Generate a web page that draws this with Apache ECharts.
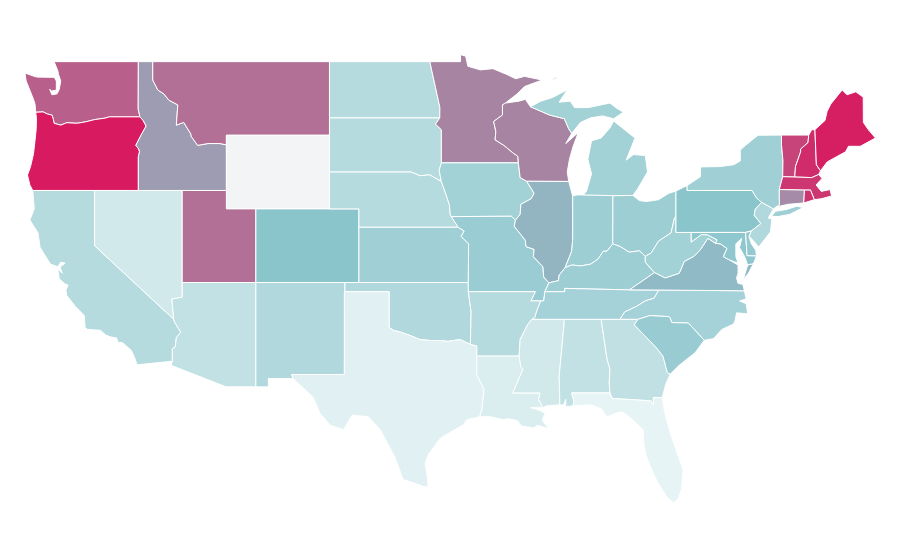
<!DOCTYPE html>
<html style="height: 100%">
<head>
<meta charset="utf-8">
<style>
    body { margin: 0; background: #fff; }
    #container { width: 900px; height: 560px; }
</style>
</head>
<body>
<div id="container"></div>
<script src="https://cdn.jsdelivr.net/npm/echarts@6/dist/echarts.min.js"></script>
<script>
// values, Wyoming has none
var stateNames = ['Washington','Oregon','California','Nevada','Idaho','Montana','Utah','Arizona','New Mexico','Colorado',
    'North Dakota','South Dakota','Nebraska','Kansas','Oklahoma','Texas','Minnesota','Iowa','Missouri','Arkansas',
    'Louisiana','Wisconsin','Illinois','Michigan','Indiana','Ohio','Kentucky','Tennessee','Mississippi','Alabama',
    'Georgia','Florida','South Carolina','North Carolina','Virginia','West Virginia','Pennsylvania','Maryland','Delaware','New Jersey',
    'New York','Connecticut','Rhode Island','Massachusetts','Vermont','New Hampshire','Maine'];
var stateValues = [80,100,27,12,62,75,75,21,30,50,
    27,27,27,39,30,4,69,38,42,27,
    8,69,55,38,41,41,41,36,12,21,
    22,1,43,36,53,38,50,48,46,30,
    39,67,93,92,88,95,99];

// state outlines, lon lat lon lat ...  (hand traced)
var outlines = {
    'Washington': [[-124.73,48.38,-124.1,48.2,-123.9,48.16,-123.1,48.15,-122.75,48.15,-122.6,47.95,-122.6,47.45,-122.95,47.4,-123.05,47.5,-122.9,47.2,-122.55,47.25,-122.4,47.5,-122.3,47.95,-122.45,48.3,-122.5,48.5,-122.75,49,-117.03,49,-117.04,46.42,-116.92,46,-119,46,-119.3,45.93,-120,45.85,-120.6,45.73,-121.2,45.65,-121.9,45.68,-122.3,45.55,-122.75,45.65,-122.8,45.85,-122.9,46.1,-123.2,46.15,-123.5,46.27,-124,46.25,-124.05,46.7,-124.15,46.95,-124.35,47.35,-124.65,47.95]],
    'Oregon': [[-124,46.25,-123.5,46.27,-123.2,46.15,-122.9,46.1,-122.8,45.85,-122.75,45.65,-122.3,45.55,-121.9,45.68,-121.2,45.65,-120.6,45.73,-120,45.85,-119.3,45.93,-119,46,-116.92,46,-116.7,45.8,-116.5,45.5,-116.85,45,-117.2,44.45,-117,44.25,-116.95,44.1,-117.03,43.83,-117.03,42,-124.2,42,-124.4,42.3,-124.56,42.84,-124.35,43.3,-124.15,44,-124.05,44.7,-123.97,45.3,-123.95,45.9]],
    'California': [[-124.2,42,-120,42,-120,39,-114.63,35,-114.57,34.85,-114.15,34.3,-114.45,34,-114.52,33.5,-114.72,33.4,-114.72,32.72,-117.12,32.53,-117.25,32.85,-117.5,33.3,-118.1,33.73,-118.4,33.74,-118.5,33.98,-118.95,34.05,-119.25,34.15,-119.6,34.4,-120.47,34.45,-120.65,34.55,-120.7,35.2,-121.3,35.7,-121.9,36.3,-121.95,36.6,-121.8,36.85,-122.05,36.95,-122.4,37.2,-122.5,37.75,-122.2,37.5,-122.35,37.85,-122,38.05,-122.3,38.1,-122.5,37.85,-123,38,-123.7,38.9,-123.85,39.7,-124.4,40.4,-124.1,41]],
    'Nevada': [[-120,42,-114.05,42,-114.05,36.2,-114.75,36.1,-114.63,35,-120,39]],
    'Idaho': [[-117.03,49,-116.05,49,-116.05,48,-115.7,47.45,-115.3,47.25,-114.95,46.9,-114.35,46.65,-114.45,45.55,-113.95,45.7,-113.45,45.05,-113.45,44.95,-113,44.45,-112.3,44.55,-111.5,44.55,-111.05,44.48,-111.05,42,-117.03,42,-117.03,43.83,-116.95,44.1,-117,44.25,-117.2,44.45,-116.85,45,-116.5,45.5,-116.7,45.8,-116.92,46,-117.04,46.42]],
    'Montana': [[-116.05,49,-104.05,49,-104.05,45,-111.05,45,-111.05,44.48,-111.5,44.55,-112.3,44.55,-113,44.45,-113.45,44.95,-113.45,45.05,-113.95,45.7,-114.45,45.55,-114.35,46.65,-114.95,46.9,-115.3,47.25,-115.7,47.45,-116.05,48]],
    'Wyoming': [[-111.05,45,-104.05,45,-104.05,41,-111.05,41]],
    'Utah': [[-114.05,42,-111.05,42,-111.05,41,-109.05,41,-109.05,37,-114.05,37]],
    'Arizona': [[-114.05,37,-109.05,37,-109.05,31.33,-111.07,31.33,-114.81,32.5,-114.72,32.72,-114.72,33.4,-114.52,33.5,-114.45,34,-114.15,34.3,-114.57,34.85,-114.63,35,-114.75,36.1,-114.05,36.2]],
    'New Mexico': [[-109.05,37,-103,37,-103.04,32,-106.62,32,-106.53,31.78,-108.2,31.78,-108.2,31.33,-109.05,31.33]],
    'Colorado': [[-109.05,41,-102.05,41,-102.05,37,-109.05,37]],
    'North Dakota': [[-104.05,49,-97.23,49,-97.1,48.5,-96.85,47.6,-96.55,46.5,-96.56,45.94,-104.05,45.94]],
    'South Dakota': [[-104.05,45.94,-96.56,45.94,-96.85,45.6,-96.45,45.3,-96.45,43.5,-96.6,43.1,-96.45,42.49,-96.7,42.6,-97.25,42.85,-97.9,42.8,-98.5,43,-104.05,43]],
    'Nebraska': [[-104.05,43,-98.5,43,-97.9,42.8,-97.25,42.85,-96.7,42.6,-96.45,42.49,-96.1,41.7,-95.9,41.2,-95.85,40.7,-95.77,40.58,-95.31,40,-102.05,40,-102.05,41,-104.05,41]],
    'Kansas': [[-102.05,40,-95.31,40,-94.9,39.8,-95.1,39.5,-94.6,39.1,-94.62,37,-102.05,37]],
    'Oklahoma': [[-103,37,-94.62,37,-94.62,36.5,-94.43,35.4,-94.48,33.64,-95.2,33.9,-96,33.8,-96.6,33.85,-97.2,33.85,-97.9,33.9,-98.5,34.1,-99.2,34.3,-99.7,34.4,-100,34.56,-100,36.5,-103,36.5]],
    'Texas': [[-103.04,36.5,-100,36.5,-100,34.56,-99.7,34.4,-99.2,34.3,-98.5,34.1,-97.9,33.9,-97.2,33.85,-96.6,33.85,-96,33.8,-95.2,33.9,-94.48,33.64,-94.04,33.55,-94.04,33,-94.05,32,-93.55,31.2,-93.7,30.1,-93.85,29.7,-94.7,29.55,-95,29.25,-96.5,28.55,-97.3,27.7,-97.55,27.2,-97.4,26.4,-97.35,25.9,-97.6,25.9,-98.3,26.1,-99.05,26.3,-99.6,27.5,-100.6,29,-101.4,29.7,-102.5,29.8,-103.1,29,-104,29.25,-104.7,29.9,-105.15,30.75,-106,31.4,-106.53,31.78,-106.62,32,-103.04,32]],
    'Minnesota': [[-97.23,49,-95.15,49,-95.15,49.38,-94.8,49.3,-94.65,48.75,-93.8,48.55,-92.95,48.62,-92,48.3,-91.4,48.07,-90.8,48.2,-89.6,48,-90.8,47.65,-91.3,47.25,-92.1,46.75,-92.3,46.65,-92.3,46.1,-92.9,45.75,-92.75,45.2,-92.8,44.75,-92.2,44.45,-91.6,44.05,-91.25,43.85,-91.22,43.5,-96.45,43.5,-96.45,45.3,-96.85,45.6,-96.56,45.94,-96.55,46.5,-96.85,47.6,-97.1,48.5]],
    'Iowa': [[-96.45,43.5,-91.22,43.5,-91.1,42.7,-90.65,42.5,-90.15,41.85,-90.35,41.55,-91.05,41.25,-91.1,40.7,-91.42,40.38,-91.7,40.6,-95.77,40.58,-95.85,40.7,-95.9,41.2,-96.1,41.7,-96.45,42.49,-96.6,43.1]],
    'Missouri': [[-95.77,40.58,-91.7,40.6,-91.42,40.38,-91.5,40.05,-90.75,39.3,-90.7,38.95,-90.15,38.8,-90.2,38.4,-89.55,37.85,-89.5,37.3,-89.15,36.98,-89.42,36.5,-89.5,36,-89.7,36,-90.37,36,-90.07,36.5,-94.62,36.5,-94.62,37,-94.6,39.1,-95.1,39.5,-94.9,39.8,-95.31,40]],
    'Arkansas': [[-94.62,36.5,-90.07,36.5,-90.37,36,-89.7,36,-89.95,35.5,-90.1,35.1,-90.3,35,-90.6,34.7,-91.1,33.9,-91.17,33,-94.04,33,-94.04,33.55,-94.48,33.64,-94.43,35.4]],
    'Louisiana': [[-94.04,33,-91.17,33,-91.05,32.4,-90.9,32.3,-91.6,31,-89.75,31,-89.85,30.65,-89.55,30.2,-89.9,30.2,-90.4,30.2,-89.75,30.05,-89.4,29.9,-89.6,29.5,-89.15,29.05,-89.9,29.25,-90.2,29.1,-91,29.2,-91.3,29.5,-91.9,29.6,-92.3,29.55,-93.2,29.72,-93.85,29.7,-93.7,30.1,-93.55,31.2,-94.05,32]],
    'Mississippi': [[-90.3,35,-88.2,35,-88.1,34.9,-88.45,31.9,-88.4,30.35,-89.3,30.3,-89.55,30.2,-89.85,30.65,-89.75,31,-91.6,31,-90.9,32.3,-91.05,32.4,-91.17,33,-91.1,33.9,-90.6,34.7]],
    'Alabama': [[-88.2,35,-85.6,35,-85.2,32.85,-85,32.3,-85.05,31.55,-85,31,-87.6,31,-87.45,30.55,-87.5,30.3,-88,30.25,-88,30.65,-88.15,30.35,-88.4,30.35,-88.45,31.9,-88.1,34.9]],
    'Georgia': [[-85.6,35,-83.1,35,-83.35,34.7,-82.75,34.2,-81.9,33.5,-81.4,33,-81.1,32.1,-80.9,32.03,-81.2,31.5,-81.45,30.75,-82.05,30.75,-82.05,30.36,-82.2,30.57,-84.85,30.7,-85,31,-85.05,31.55,-85,32.3,-85.2,32.85]],
    'Florida': [[-87.6,31,-85,31,-84.85,30.7,-82.2,30.57,-82.05,30.36,-82.05,30.75,-81.45,30.75,-81.3,30,-80.9,28.8,-80.55,28,-80.03,26.8,-80.15,25.75,-80.4,25.2,-80.7,25.05,-81.1,25.3,-81.8,26.2,-82.1,26.7,-82.55,27.6,-82.7,28.2,-82.75,29,-83.4,29.5,-84.1,29.95,-84.4,29.95,-85.2,29.7,-85.6,30.15,-86.3,30.35,-87.5,30.3,-87.45,30.55]],
    'Wisconsin': [[-92.1,46.75,-91.2,46.85,-90.75,46.95,-90.4,46.55,-89.1,46.1,-88.1,45.9,-87.8,45.35,-87.6,45.1,-88,44.55,-87.15,45.15,-87.5,44.4,-87.75,43.7,-87.9,43,-87.8,42.49,-90.65,42.5,-91.1,42.7,-91.22,43.5,-91.25,43.85,-91.6,44.05,-92.2,44.45,-92.8,44.75,-92.75,45.2,-92.9,45.75,-92.3,46.1,-92.3,46.65]],
    'Illinois': [[-90.65,42.5,-87.8,42.49,-87.55,41.75,-87.53,39.35,-87.6,38.7,-88.05,37.8,-88.45,37.4,-88.5,37.1,-89.15,36.98,-89.5,37.3,-89.55,37.85,-90.2,38.4,-90.15,38.8,-90.7,38.95,-90.75,39.3,-91.5,40.05,-91.42,40.38,-91.1,40.7,-91.05,41.25,-90.35,41.55,-90.15,41.85]],
    'Indiana': [[-87.53,41.72,-87.2,41.76,-86.8,41.76,-84.8,41.76,-84.81,39.1,-85.2,38.7,-85.45,38.7,-85.8,38.28,-86.3,38,-87,37.9,-87.6,37.95,-88.05,37.8,-87.6,38.7,-87.53,39.35]],
    'Ohio': [[-84.8,41.72,-83.45,41.73,-83,41.45,-82.5,41.4,-81.7,41.5,-81,41.85,-80.52,41.97,-80.52,40.64,-80.65,40.4,-80.85,39.7,-81.7,39.25,-82.2,38.6,-82.6,38.42,-83,38.72,-83.7,38.65,-84.3,38.95,-84.81,39.1]],
    'Michigan': [[-86.82,41.76,-84.8,41.72,-83.45,41.73,-83.15,42.05,-82.45,43,-82.6,43.9,-83.4,43.95,-83.9,43.65,-83.3,44.85,-84.75,45.77,-85,45.4,-85.6,44.85,-86.25,44.7,-86.5,43.7,-86.25,42.9,-86.6,41.95],
        [-90.4,46.55,-89.1,46.1,-88.1,45.9,-87.8,45.35,-87.6,45.1,-87,45.7,-86.3,45.95,-85.5,46.05,-84.75,45.9,-84.1,46.25,-84.6,46.5,-85,46.75,-86.5,46.5,-87.4,46.5,-87.7,46.85,-88.45,46.8,-87.9,47.47,-88.9,47.05,-89.7,46.85],
        [-89.15,47.88,-88.5,48.15,-88.7,48.15]],
    'Kentucky': [[-89.15,36.98,-88.5,37.1,-88.45,37.4,-88.05,37.8,-87.6,37.95,-87,37.9,-86.3,38,-85.8,38.28,-85.45,38.7,-85.2,38.7,-84.81,39.1,-84.3,38.95,-83.7,38.65,-83,38.72,-82.6,38.42,-82.6,38.1,-81.97,37.54,-83.68,36.6,-86.5,36.65,-88.07,36.68,-88.07,36.5,-89.42,36.5]],
    'Tennessee': [[-89.42,36.5,-88.07,36.5,-88.07,36.68,-86.5,36.65,-83.68,36.6,-81.68,36.59,-82,36.15,-82.6,36,-83.2,35.7,-84,35.4,-84.32,35,-85.6,35,-88.2,35,-90.3,35,-90.1,35.1,-89.95,35.5,-89.7,36,-89.5,36]],
    'North Carolina': [[-84.32,35,-84,35.4,-83.2,35.7,-82.6,36,-82,36.15,-81.68,36.59,-75.87,36.55,-75.75,36.1,-76.2,36,-75.75,35.85,-75.65,35.3,-76.4,35.35,-76.5,34.95,-76.6,34.75,-77.4,34.45,-77.97,33.95,-78.6,33.86,-79.68,34.8,-80.8,34.82,-80.93,35.1,-81.05,35.15,-82.3,35.2,-83.1,35]],
    'South Carolina': [[-83.1,35,-82.3,35.2,-81.05,35.15,-80.93,35.1,-80.8,34.82,-79.68,34.8,-78.6,33.86,-79.2,33.2,-80.3,32.5,-80.9,32.03,-81.1,32.1,-81.4,33,-81.9,33.5,-82.75,34.2,-83.35,34.7]],
    'Virginia': [[-83.68,36.6,-81.97,37.54,-81.25,37.25,-80.3,37.5,-79.95,38.15,-79.3,38.42,-78.87,38.77,-78.35,39.4,-77.83,39.13,-77.5,39.1,-77.05,38.85,-77.3,38.4,-76.95,38.25,-76.3,37.95,-76.3,37.5,-76.4,37.25,-76.3,36.95,-75.98,36.9,-75.87,36.55,-81.68,36.59],
        [-75.95,37.15,-75.65,37.95,-75.25,38.03,-75.6,37.5]],
    'West Virginia': [[-80.52,40.64,-80.52,39.72,-79.48,39.72,-79.48,39.2,-78.8,39.6,-78.4,39.6,-77.72,39.32,-77.83,39.13,-78.35,39.4,-78.87,38.77,-79.3,38.42,-79.95,38.15,-80.3,37.5,-81.25,37.25,-81.97,37.54,-82.6,38.1,-82.6,38.42,-82.2,38.6,-81.7,39.25,-80.85,39.7,-80.65,40.4]],
    'Pennsylvania': [[-80.52,41.97,-79.76,42.27,-79.76,42,-75.35,42,-75.05,41.6,-74.7,41.36,-75.13,40.98,-75.2,40.65,-74.75,40.2,-75.4,39.8,-75.79,39.72,-80.52,39.72]],
    'Maryland': [[-79.48,39.72,-75.79,39.72,-75.69,38.46,-75.05,38.45,-75.25,38.03,-75.65,37.95,-75.85,38.4,-76.2,38.9,-76.05,39.4,-76.45,39.1,-76.45,38.4,-76.3,38.05,-76.95,38.25,-77.3,38.4,-77.05,38.85,-77.5,39.1,-77.83,39.13,-77.72,39.32,-78.4,39.6,-78.8,39.6,-79.48,39.2]],
    'Delaware': [[-75.79,39.72,-75.4,39.8,-75.55,39.5,-75.4,39.1,-75.1,38.75,-75.05,38.45,-75.69,38.46]],
    'New Jersey': [[-75.13,40.98,-74.7,41.36,-73.9,41,-74.25,40.5,-74,40.45,-74.1,39.75,-74.9,38.93,-75.35,39.35,-75.55,39.5,-75.4,39.8,-74.75,40.2,-75.2,40.65]],
    'New York': [[-79.76,42.27,-78.85,42.75,-78.85,43.28,-77.5,43.3,-76.6,43.4,-76.15,43.6,-76.15,44.2,-75.8,44.45,-74.95,45,-73.35,45.01,-73.35,44.5,-73.25,43.6,-73.27,42.75,-73.5,42.05,-73.49,41.2,-73.73,41.1,-73.9,41,-74.7,41.36,-75.05,41.6,-75.35,42,-79.76,42],
        [-74.03,40.6,-73.75,40.87,-73,40.97,-72.3,41.15,-71.87,41.07,-72.8,40.7,-73.6,40.58]],
    'Vermont': [[-73.35,45.01,-71.5,45.01,-71.55,44.6,-72.05,44.25,-72.05,44.1,-72.4,43.3,-72.45,42.73,-73.27,42.75,-73.25,43.6,-73.35,44.5]],
    'New Hampshire': [[-71.5,45.01,-71.3,45.3,-71.08,45.3,-70.98,43.4,-70.7,43.07,-70.82,42.87,-71.3,42.7,-72.45,42.73,-72.4,43.3,-72.05,44.1,-72.05,44.25,-71.55,44.6]],
    'Maine': [[-71.08,45.3,-70.4,45.8,-70.25,46.3,-70,46.7,-69.23,47.46,-68.9,47.2,-68.3,47.36,-67.8,47.07,-67.79,45.7,-67.45,45.3,-66.97,44.85,-68,44.4,-68.8,44.4,-69,44.1,-69.8,43.75,-70.25,43.55,-70.7,43.07,-70.98,43.4]],
    'Massachusetts': [[-73.5,42.05,-73.27,42.75,-72.45,42.73,-71.3,42.7,-70.82,42.87,-70.6,42.65,-71,42.3,-70.65,41.95,-70.05,42.05,-69.95,41.7,-70.65,41.55,-71.12,41.5,-71.38,42.02,-71.8,42.02]],
    'Rhode Island': [[-71.8,42.02,-71.38,42.02,-71.12,41.5,-71.85,41.32]],
    'Connecticut': [[-73.5,42.05,-71.8,42.02,-71.85,41.32,-72.9,41.25,-73.73,41.1,-73.49,41.2]]
};

function toRing(flat) {
    var ring = [];
    for (var i = 0; i < flat.length; i += 2) {
        ring.push([flat[i], flat[i + 1]]);
    }
    ring.push(ring[0]);
    return ring;
}

var features = Object.keys(outlines).map(function (name) {
    return {
        type: 'Feature',
        properties: { name: name },
        geometry: {
            type: 'MultiPolygon',
            coordinates: outlines[name].map(function (flat) { return [toRing(flat)]; })
        }
    };
});
echarts.registerMap('USA', { type: 'FeatureCollection', features: features });

var seriesData = stateNames.map(function (name, i) {
    return { name: name, value: stateValues[i] };
});

var myChart = echarts.init(document.getElementById('container'));
myChart.setOption({
    animation: false,
    backgroundColor: '#fff',
    visualMap: {
        show: false,
        min: 0,
        max: 100,
        inRange: { color: ['#e9f5f6', '#8bc5cc', '#d81b60'] }
    },
    series: [{
        type: 'map',
        map: 'USA',
        roam: false,
        aspectScale: 0.8,
        boundingCoords: [[-125, 49], [-67, 25]],
        layoutCenter: [448, 282.5],
        layoutSize: 854,
        selectedMode: false,
        label: { show: false },
        itemStyle: { areaColor: '#f3f4f6', borderColor: '#fff', borderWidth: 1 },
        emphasis: { disabled: true },
        data: seriesData
    }]
});
</script>
</body>
</html>
